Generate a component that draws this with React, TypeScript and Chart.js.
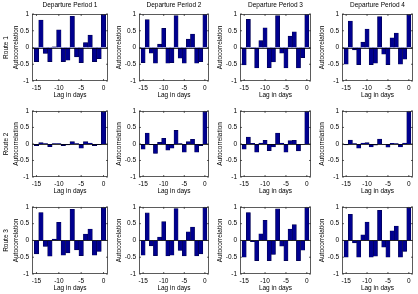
import React, { useEffect, useRef } from 'react';
import { Chart, registerables } from 'chart.js';

Chart.register(...registerables);

// ---- data ----
const lags = [-15, -14, -13, -12, -11, -10, -9, -8, -7, -6, -5, -4, -3, -2, -1, 0];
const xTickValues = [-15, -10, -5, 0];
const yTickValues = [-1, -0.5, 0, 0.5, 1];
const periodTitles = ['Departure Period 1', 'Departure Period 2', 'Departure Period 3', 'Departure Period 4'];
const routeLabels = ['Route 1', 'Route 2', 'Route 3'];
const xAxisTitle = 'Lag in days';
const yAxisTitle = 'Autocorrelation';

const route1Period1 = [-0.42, 0.82, -0.18, -0.42, 0.02, 0.53, -0.42, -0.38, 0.93, -0.28, -0.45, 0.15, 0.37, -0.42, -0.33, 1];
const route1Period2 = [-0.45, 0.83, -0.17, -0.47, 0.1, 0.57, -0.47, -0.45, 0.95, -0.32, -0.47, 0.25, 0.4, -0.47, -0.42, 1];
const route1Period3 = [-0.52, 0.84, -0.03, -0.61, 0.21, 0.59, -0.6, -0.43, 0.95, -0.17, -0.61, 0.34, 0.47, -0.61, -0.3, 1];
const route1Period4 = [-0.5, 0.79, -0.07, -0.51, 0.16, 0.55, -0.51, -0.47, 0.92, -0.2, -0.51, 0.29, 0.43, -0.5, -0.35, 1];

const route2Period1 = [-0.05, 0.04, 0.01, -0.08, 0.01, 0.01, -0.05, -0.03, 0.07, 0.01, -0.13, 0.07, 0.03, -0.05, -0.02, 1];
const route2Period2 = [-0.16, 0.33, -0.02, -0.29, 0.05, 0.17, -0.19, -0.13, 0.41, 0.01, -0.25, 0.07, 0.14, -0.25, -0.05, 1];
const route2Period3 = [-0.16, 0.21, 0.02, -0.25, 0.03, 0.11, -0.2, -0.09, 0.33, 0.03, -0.25, 0.1, 0.11, -0.21, -0.01, 1];
const route2Period4 = [-0.03, 0.12, 0.01, -0.13, 0.03, 0.04, -0.09, -0.04, 0.15, -0.01, -0.1, 0.02, 0.01, -0.09, 0.03, 1];

const route3Period1 = [-0.4, 0.83, -0.18, -0.47, 0.04, 0.54, -0.44, -0.37, 0.93, -0.28, -0.45, 0.19, 0.34, -0.44, -0.33, 1];
const route3Period2 = [-0.44, 0.82, -0.16, -0.45, 0.1, 0.56, -0.46, -0.44, 0.95, -0.3, -0.46, 0.26, 0.4, -0.46, -0.4, 1];
const route3Period3 = [-0.5, 0.83, -0.04, -0.6, 0.2, 0.6, -0.6, -0.42, 0.94, -0.17, -0.6, 0.34, 0.47, -0.6, -0.29, 1];
const route3Period4 = [-0.5, 0.78, -0.07, -0.5, 0.17, 0.55, -0.5, -0.47, 0.9, -0.2, -0.5, 0.29, 0.43, -0.5, -0.33, 1];

const seriesGrid = [
  [route1Period1, route1Period2, route1Period3, route1Period4],
  [route2Period1, route2Period2, route2Period3, route2Period4],
  [route3Period1, route3Period2, route3Period3, route3Period4],
];

// ---- layout ----
const plotLeft = [32, 139, 240, 342];
const plotRight = [108, 209, 311, 413];
const plotTop = [14, 110, 206];
const plotBottom = [81, 177, 274];
const FONT_FAMILY = '"Liberation Sans", Arial, Helvetica, sans-serif';
const FONT_SIZE = 6.5;
const BAR_COLOR = '#00008F';

const framePlugin = {
  id: 'frame',
  afterDatasetsDraw(chart: any) {
    const { ctx, chartArea: a, scales } = chart;
    const y0 = Math.round(scales.y.getPixelForValue(0)) + 0.5;
    ctx.save();
    ctx.strokeStyle = '#000';
    ctx.lineWidth = 0.8;
    ctx.beginPath();
    ctx.moveTo(a.left, y0);
    ctx.lineTo(a.right, y0);
    ctx.stroke();
    ctx.restore();
  },
  afterDraw(chart: any) {
    const { ctx, chartArea: a, scales } = chart;
    ctx.save();
    ctx.strokeStyle = '#333';
    ctx.lineWidth = 0.8;
    ctx.strokeRect(Math.round(a.left) + 0.5, Math.round(a.top) + 0.5, Math.round(a.right - a.left) - 1, Math.round(a.bottom - a.top) - 1);
    ctx.beginPath();
    for (const v of yTickValues) {
      const y = scales.y.getPixelForValue(v);
      ctx.moveTo(a.left, y);
      ctx.lineTo(a.left + 2, y);
      ctx.moveTo(a.right, y);
      ctx.lineTo(a.right - 2, y);
    }
    for (const v of xTickValues) {
      const x = scales.x.getPixelForValue(v);
      ctx.moveTo(x, a.bottom);
      ctx.lineTo(x, a.bottom - 2);
      ctx.moveTo(x, a.top);
      ctx.lineTo(x, a.top + 2);
    }
    ctx.stroke();
    ctx.restore();
  },
};

function Cell({ row, col }: { row: number; col: number }) {
  const ref = useRef<HTMLCanvasElement>(null);
  const yAxisWidth = col === 0 ? 32 : 25;
  const padTop = row === 0 ? 0 : 6;
  const left = plotLeft[col] - yAxisWidth;
  const right = plotRight[col] + 4;
  const top = plotTop[row] - (row === 0 ? 14 : padTop);
  const bottom = plotBottom[row] + 19;
  const width = right - left;
  const height = bottom - top;

  useEffect(() => {
    const values = seriesGrid[row][col];
    const font = { family: FONT_FAMILY, size: FONT_SIZE };
    const chart = new Chart(ref.current as HTMLCanvasElement, {
      type: 'bar',
      data: {
        datasets: [
          {
            data: lags.map((x, i) => ({ x, y: values[i] })),
            backgroundColor: BAR_COLOR,
            borderColor: '#00004A',
            borderWidth: 0.6,
            barPercentage: 1,
            categoryPercentage: 1,
          } as any,
        ],
      },
      options: {
        animation: false,
        responsive: false,
        maintainAspectRatio: false,
        events: [],
        layout: { padding: { top: padTop, right: 4, left: 0, bottom: 0 } },
        plugins: {
          legend: { display: false },
          tooltip: { enabled: false },
          title: {
            display: row === 0,
            text: periodTitles[col],
            fullSize: false,
            align: 'center',
            color: '#000',
            font: { ...font, weight: 'normal', lineHeight: 1.2 },
            padding: { top: 1.8, bottom: 4.4 },
          },
        },
        scales: {
          x: {
            type: 'linear',
            min: -16,
            max: 1,
            offset: false,
            grid: { display: false, drawTicks: false, offset: false },
            border: { display: false },
            afterBuildTicks: (s: any) => {
              s.ticks = xTickValues.map((v) => ({ value: v }));
            },
            afterFit: (s: any) => {
              s.height = 19;
            },
            ticks: {
              font,
              color: '#000',
              padding: 3,
              maxRotation: 0,
              autoSkip: false,
              callback: (v: any) => String(v),
            },
            title: {
              display: true,
              text: xAxisTitle,
              color: '#000',
              font: { ...font, lineHeight: 1.2 },
              padding: { top: 0, bottom: 0.4 },
            },
          },
          y: {
            min: -1,
            max: 1,
            grid: { display: false, drawTicks: false },
            border: { display: false },
            afterBuildTicks: (s: any) => {
              s.ticks = yTickValues.map((v) => ({ value: v }));
            },
            afterFit: (s: any) => {
              s.width = yAxisWidth;
            },
            ticks: {
              font,
              color: '#000',
              padding: 3,
              callback: (v: any) => String(v),
            },
            title: {
              display: true,
              text: col === 0 ? [routeLabels[row], yAxisTitle] : yAxisTitle,
              color: '#000',
              font: { ...font, lineHeight: col === 0 ? 1.55 : 1.2 },
              padding: { top: col === 0 ? 1 : 1.1, bottom: 0 },
            },
          },
        },
      } as any,
      plugins: [framePlugin],
    });
    return () => chart.destroy();
  }, [row, col]);

  return (
    <canvas
      ref={ref}
      width={width}
      height={height}
      style={{ position: 'absolute', left, top, width, height }}
    />
  );
}

export default function App() {
  const cells: JSX.Element[] = [];
  for (let r = 0; r < 3; r++) {
    for (let c = 0; c < 4; c++) {
      cells.push(<Cell key={`${r}-${c}`} row={r} col={c} />);
    }
  }
  return (
    <div style={{ position: 'absolute', left: 0, top: 0, width: 418, height: 294, background: '#fff', overflow: 'hidden' }}>
      {cells}
    </div>
  );
}
